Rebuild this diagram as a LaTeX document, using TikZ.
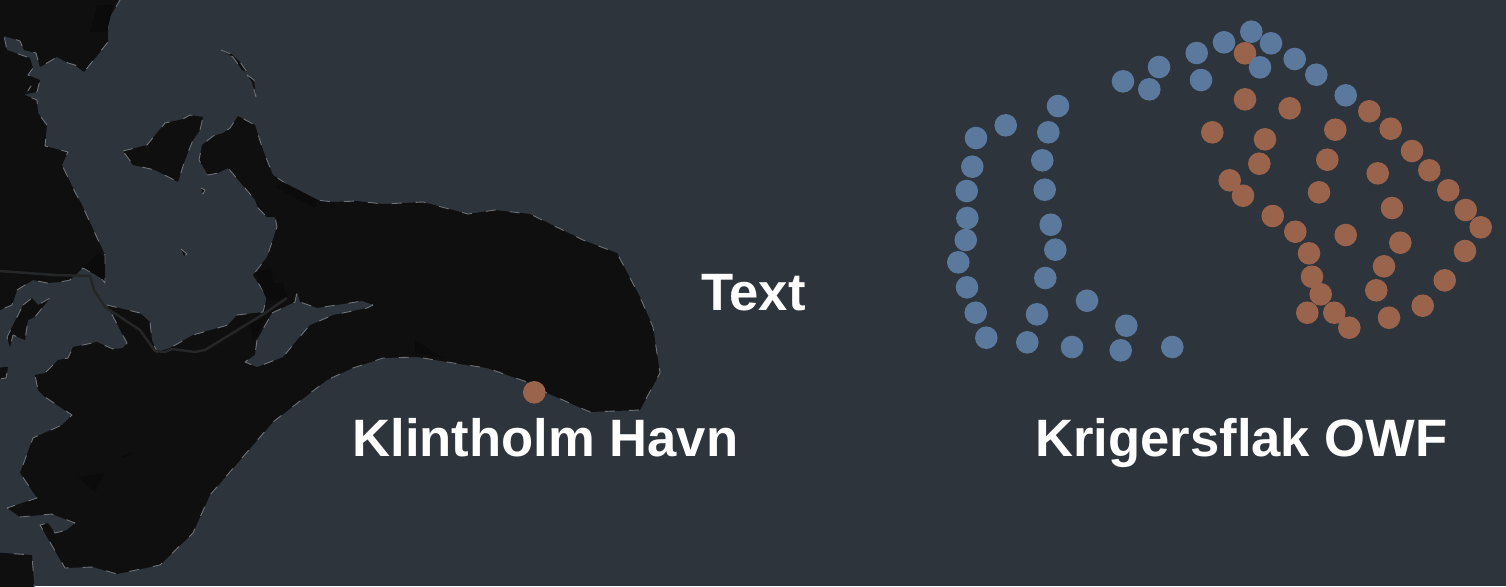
\documentclass[tikz,border=0pt]{standalone}
\usepackage{fontspec}
\setmainfont{Liberation Sans}
\usetikzlibrary{positioning}
\definecolor{seagray}{HTML}{2E343B}
\definecolor{landblack}{HTML}{0F0F0F}
\definecolor{landdark}{HTML}{0B0B0B}
\definecolor{coastgray}{HTML}{6E7277}
\definecolor{roadgray}{HTML}{252628}
\definecolor{turbineblue}{HTML}{5B789D}
\definecolor{turbineorange}{HTML}{9A634C}
\begin{document}
\begin{tikzpicture}[
    x=0.5pt, y=-0.5pt,
    land/.style={fill=landblack, draw=coastgray, line width=0.45pt, dash pattern=on 5pt off 7pt, line join=round},
    hole/.style={fill=seagray, draw=coastgray, line width=0.45pt, dash pattern=on 5pt off 7pt, line join=round},
    patch/.style={fill=landdark},
    road/.style={draw=roadgray, line width=1.25pt, line join=round},
    bluedot/.style={circle, fill=turbineblue, inner sep=0pt, minimum size=11.3pt},
    orangedot/.style={circle, fill=turbineorange, inner sep=0pt, minimum size=11.3pt},
    place/.style={font=\fontsize{26.3}{30}\selectfont\bfseries, text=white, inner sep=0pt, anchor=base}
  ]
    \fill[seagray] (0,0) rectangle (1506,586);
    \useasboundingbox (0,0) rectangle (1506,586);

    \path[land] (-10,-10) -- (125,-10) -- (120,0) -- (108,20) -- (108,42) -- (84,72) -- (75,65) -- (68,63) -- (57,57) -- (47,63) -- (40,67)
      -- (36,53) -- (24,50) -- (20,41) -- (14,39) -- (4,36) -- (7,50) -- (30,58) -- (33,68) -- (28,75) -- (40,80) -- (37,92)
      -- (26,94) -- (31,86) -- (25,95) -- (37,100) -- (38,113) -- (47,125) -- (45,146) -- (68,152) -- (62,165) -- (75,192)
      -- (82,205) -- (105,255) -- (105,283) -- (100,277) -- (83,268) -- (70,280) -- (60,282) -- (47,283) -- (33,280)
      -- (17,290) -- (12,305) -- (0,310) -- (-10,310) -- cycle;
    \path[land] (107,305) -- (140,313) -- (150,322) -- (152,340) -- (157,352) -- (170,348) -- (193,335) -- (228,325)
      -- (237,315) -- (263,312) -- (267,297) -- (253,275) -- (267,257) -- (277,227) -- (275,217) -- (267,217) -- (258,208)
      -- (255,200) -- (240,182) -- (228,168) -- (218,173) -- (208,175) -- (199,160) -- (202,145) -- (213,136) -- (223,133)
      -- (230,128) -- (238,116) -- (255,125) -- (263,150) -- (273,175) -- (300,193) -- (317,200) -- (333,202) -- (357,201)
      -- (383,204) -- (423,202) -- (468,214) -- (495,210) -- (530,214) -- (583,240) -- (617,253) -- (640,297) -- (653,327)
      -- (660,373) -- (640,410) -- (590,412) -- (547,393) -- (527,382) -- (487,368) -- (453,363) -- (417,357) -- (383,358)
      -- (353,368) -- (327,380) -- (273,422) -- (210,495) -- (193,533) -- (160,565) -- (117,574) -- (93,567) -- (65,568)
      -- (40,525) -- (48,523) -- (55,533) -- (67,530) -- (75,523) -- (52,514) -- (20,517) -- (7,508) -- (37,498) -- (20,473)
      -- (33,438) -- (62,425) -- (72,415) -- (45,397) -- (38,390) -- (35,375) -- (45,373) -- (58,360) -- (68,358) -- (73,347)
      -- (97,342) -- (113,349) -- (123,348) -- (127,343) -- cycle;
    \path[land] (123,151) -- (147,145) -- (165,123) -- (183,119) -- (190,115) -- (203,117) -- (200,130) -- (193,140)
      -- (185,160) -- (178,182) -- (155,170) -- (133,165) -- cycle;
    \path[land] (23,305) -- (32,298) -- (38,305) -- (50,298) -- (35,317) -- (28,320) -- (25,340) -- (13,335) -- (10,347) -- (7,337) -- cycle;
    \path[land] (-10,368) -- (8,367) -- (6,378) -- (-10,380) -- cycle;
    \path[land] (-10,552) -- (32,555) -- (35,596) -- (-10,596) -- cycle;
    \path[land] (221,50) -- (233,55) -- (240,62) -- (247,72) -- (242,70) -- (233,57) -- cycle;
    \path[land] (247,75) -- (254,80) -- (256,97) -- (252,82) -- cycle;
    \path[land] (201,188) -- (205,190) -- (203,194) -- cycle;
    \path[land] (181,249) -- (187,254) -- (184,256) -- cycle;
    \path[hole] (272,313) -- (295,302) -- (297,292) -- (300,302) -- (317,308) -- (350,303) -- (362,301) -- (373,305)
      -- (367,308) -- (333,315) -- (310,325) -- (297,340) -- (283,357) -- (257,367) -- (245,362) -- (255,355) -- (257,340) -- cycle;

    \fill[patch] (97,5) -- (113,5) -- (107,32) -- (90,32) -- cycle;
    \fill[patch] (275,187) -- (283,182) -- (318,200) -- (315,208) -- cycle;
    \fill[patch] (99,253) -- (104,257) -- (104,280) -- (83,267) -- cycle;
    \fill[patch] (255,273) -- (271,268) -- (273,283) -- (283,283) -- (288,300) -- (267,300) -- cycle;
    \fill[patch] (250,323) -- (266,318) -- (253,342) -- cycle;
    \fill[patch] (78,477) -- (105,473) -- (95,492) -- cycle;
    \fill[patch] (120,457) -- (132,452) -- (125,458) -- cycle;
    \fill[patch] (415,340) -- (443,358) -- (415,353) -- cycle;

    \draw[road] (0,271) -- (55,275) -- (90,276) -- (94,290) -- (105,307) -- (140,330) -- (155,351) -- (165,352)
      -- (172,349) -- (195,352) -- (205,350) -- (262,315) -- (287,298);

    \foreach \x/\y [count=\i] in {1245/53.3, 1245/99.3, 1289.7/108.3, 1212.3/132.3, 1265/139.3, 1335.3/129.7, 1369.3/111.3,
      1390.7/128.7, 1412/151, 1429.3/170.3, 1448.3/190.3, 1465.7/210, 1480.7/227.3, 1465/251, 1444.7/280.3, 1422.7/305.7,
      1389/317.7, 1349.3/327.7, 1334.3/312.7, 1307.3/312.7, 1320.7/294.3, 1312/276.7, 1309/253.3, 1295.3/231.7, 1272.7/216,
      1243/195.7, 1229.7/180.3, 1259.3/163.7, 1327.3/159.7, 1377.7/173.3, 1319/192.3, 1392/208, 1345.7/235, 1400.3/242.7,
      1384/266.3, 1376.3/290.3}
      \node[orangedot] (east\i) at (\x,\y) {};

    \foreach \x/\y [count=\i] in {1058/106, 1005.7/125.3, 976/138, 1048.3/132.3, 972.3/166.7, 1042.3/160.3, 966.7/191,
      1044.7/189.7, 967.3/218, 1050.7/224.7, 965.7/240, 1055.3/249.7, 958.3/262.3, 1045.3/278, 967/287.3, 1087/300.7,
      975.7/312.7, 1037/314.3, 1126.3/325.7, 986.3/337.7, 1027.3/342.3, 1072/347, 1120.7/350.3, 1172.3/347, 1123/81.3,
      1159/67, 1149.3/89.3, 1196.7/53, 1201/80, 1224/42.3, 1251.3/31.7, 1271/43.3, 1260/67.3, 1294.7/59, 1316.3/74.7,
      1345.7/95.3}
      \node[bluedot] (west\i) at (\x,\y) {};

    \node[orangedot] (harbour) at (534.3,392.3) {};

    \node[place] (klintholm) at (545.5,456) {Klintholm Havn};
    \node[place] (middle) at (753.5,310) {Text};
    \node[place] (krigersflak) at (1241.5,456) {Krigersflak OWF};
  \end{tikzpicture}
\end{document}
